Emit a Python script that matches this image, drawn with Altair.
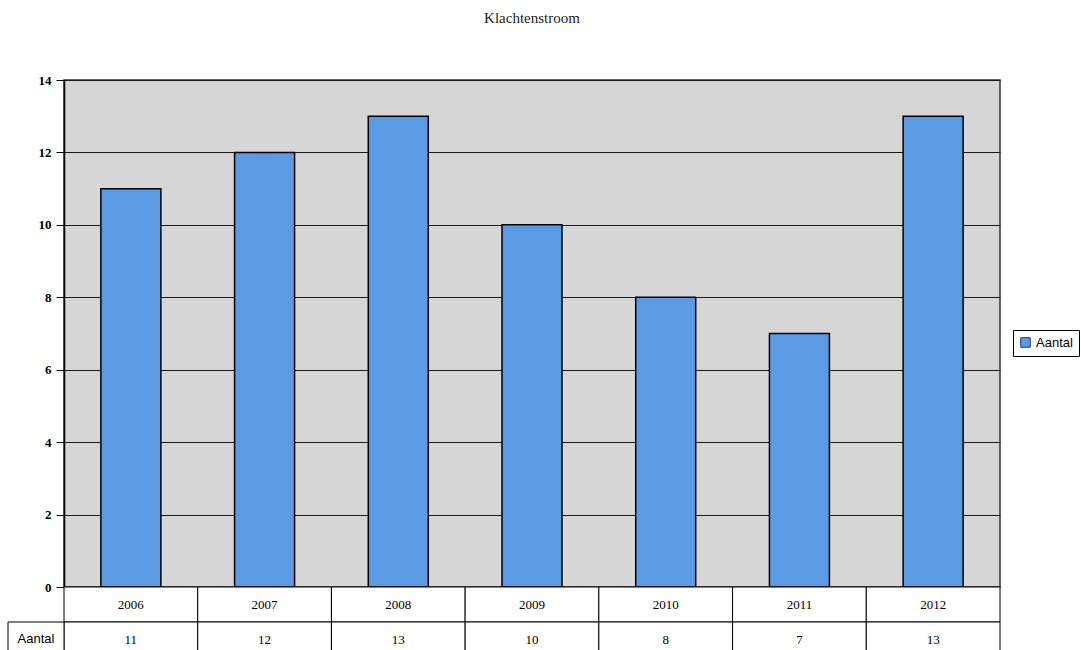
import altair as alt
import pandas as pd

years = ["2006", "2007", "2008", "2009", "2010", "2011", "2012"]
aantal = [11, 12, 13, 10, 8, 7, 13]
series_name = "Aantal"
title = "Klachtenstroom"

df = pd.DataFrame({
    "year": years,
    "aantal": aantal,
    "idx": list(range(len(years))),
})
df["lo"] = df["idx"]
df["hi"] = df["idx"] + 1
df["mid"] = df["idx"] + 0.5
df["serie"] = series_name

W, H = 936, 507

xs = alt.Scale(domain=[0, len(years)], nice=False, zero=False, padding=0)
xq = alt.X("mid:Q", scale=xs, axis=None)

bars = alt.Chart(df).mark_bar(size=60, stroke="black", strokeWidth=1.5).encode(
    x=xq,
    y=alt.Y("aantal:Q", scale=alt.Scale(domain=[0, 14]),
            axis=alt.Axis(values=list(range(0, 15, 2)), title=None, grid=True,
                          gridColor="#1a1a1a", gridWidth=1, tickColor="black",
                          tickSize=8, domainColor="black", domainWidth=1.5,
                          labelFont="Liberation Serif", labelFontWeight="bold",
                          labelFontSize=13, labelColor="black", labelPadding=5)),
    color=alt.Color("serie:N", scale=alt.Scale(domain=[series_name], range=["#5b9be3"]),
                    legend=alt.Legend(title=None, orient="none", legendX=949, legendY=250,
                                      symbolType="square", symbolSize=90,
                                      symbolStrokeColor="#1a3a6a", symbolStrokeWidth=1,
                                      strokeColor="black", padding=6,
                                      labelFont="Liberation Sans", labelFontSize=13,
                                      labelColor="black", fillColor="white")),
)

cells1 = alt.Chart(df).mark_rect(fill="white", stroke="black", strokeWidth=1).encode(
    x=alt.X("lo:Q", scale=xs, axis=None), x2="hi:Q",
    y=alt.value(H), y2=alt.value(H + 35),
)
cells2 = alt.Chart(df).mark_rect(fill="white", stroke="black", strokeWidth=1).encode(
    x=alt.X("lo:Q", scale=xs, axis=None), x2="hi:Q",
    y=alt.value(H + 35), y2=alt.value(H + 66),
)
label_box = alt.Chart(pd.DataFrame({"t": [series_name]})).mark_rect(
    fill="white", stroke="black", strokeWidth=1).encode(
    x=alt.value(-56), x2=alt.value(0),
    y=alt.value(H + 35), y2=alt.value(H + 66),
)
label_txt = alt.Chart(pd.DataFrame({"t": [series_name]})).mark_text(
    font="Liberation Sans", fontSize=13, color="black", align="center").encode(
    x=alt.value(-28), y=alt.value(H + 52), text="t:N",
)
year_txt = alt.Chart(df).mark_text(font="Liberation Serif", fontSize=13,
                                   color="black").encode(
    x=xq, y=alt.value(H + 18), text="year:N",
)
val_txt = alt.Chart(df).mark_text(font="Liberation Serif", fontSize=13,
                                  color="black").encode(
    x=xq, y=alt.value(H + 53), text="aantal:Q",
)

chart = alt.layer(bars, cells1, cells2, label_box, label_txt, year_txt, val_txt).properties(
    width=W, height=H,
    background="white",
    title=alt.TitleParams(title, font="Liberation Serif", fontSize=15,
                          fontWeight="normal", color="#222", anchor="middle",
                          offset=48),
    autosize=alt.AutoSizeParams(type="none"),
    padding={"left": 64, "top": 80, "right": 81, "bottom": 63},
).configure_view(fill="#d6d6d6", stroke="#333", strokeWidth=1.5)

chart.save("out.html", embed_options={"renderer": "svg", "actions": False})
